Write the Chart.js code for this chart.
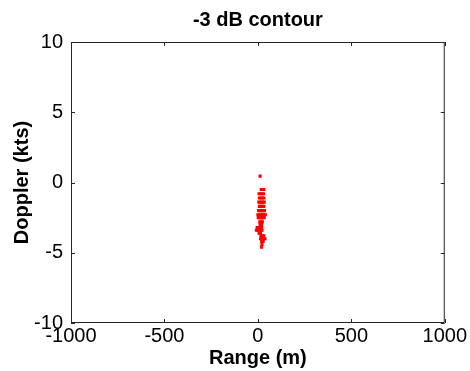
<!DOCTYPE html>
<html lang="en">
<head>
<meta charset="UTF-8">
<title>-3 dB contour</title>
<script src="https://cdn.jsdelivr.net/npm/chart.js"></script>
<style>
  html, body { margin: 0; padding: 0; background: #fff; }
  #wrap { width: 470px; height: 371px; }
</style>
</head>
<body>
<div id="wrap"><canvas id="chart" width="470" height="371"></canvas></div>
<script>
// contour cells: range (m) and doppler (kts)
const rangeM = [
  12,
  18, 26, 32,
  6, 14, 22, 30,
  8, 16, 24, 32,
  5, 12, 20, 28, 34,
  8, 16, 24, 32,
  4, 12, 20, 28, 36,
  0, 8, 16, 24, 32, 40,
  2, 10, 18, 26, 34,
  10, 18, 24,
  12, 20,
  -4, 4, 12, 20,
  -8, 0, 8, 16, 22,
  6, 14,
  16, 24, 32,
  14, 22, 30, 38,
  20, 28,
  22,
  20
];
const dopplerKts = [
  0.45,
  -0.5, -0.5, -0.5,
  -0.8, -0.8, -0.8, -0.8,
  -1.1, -1.1, -1.1, -1.1,
  -1.4, -1.4, -1.4, -1.4, -1.4,
  -1.7, -1.7, -1.7, -1.7,
  -2.0, -2.0, -2.0, -2.0, -2.0,
  -2.3, -2.3, -2.3, -2.3, -2.3, -2.3,
  -2.5, -2.5, -2.5, -2.5, -2.5,
  -2.8, -2.8, -2.8,
  -3.0, -3.0,
  -3.2, -3.2, -3.2, -3.2,
  -3.4, -3.4, -3.4, -3.4, -3.4,
  -3.6, -3.6,
  -3.8, -3.8, -3.8,
  -4.0, -4.0, -4.0, -4.0,
  -4.2, -4.2,
  -4.4,
  -4.6
];
const xTicks = [-1000, -500, 0, 500, 1000];
const yTicks = [-10, -5, 0, 5, 10];

const points = rangeM.map((x, i) => ({ x: x, y: dopplerKts[i] }));

// matlab style box with inward ticks, title centred over the axes
const boxPlugin = {
  id: 'box',
  beforeDraw(chart) {
    const a = chart.chartArea;
    if (chart.titleBlock) {
      chart.titleBlock.left = a.left;
      chart.titleBlock.right = a.right;
    }
  },
  afterDraw(chart) {
    const { ctx, chartArea: a, scales } = chart;
    const len = 4;
    ctx.save();
    ctx.strokeStyle = '#262626';
    ctx.lineWidth = 1;
    ctx.beginPath();
    ctx.rect(a.left + 0.5, a.top + 0.5, a.right - a.left - 1, a.bottom - a.top - 1);
    xTicks.forEach(v => {
      const px = Math.round(scales.x.getPixelForValue(v)) + 0.5;
      ctx.moveTo(px, a.bottom); ctx.lineTo(px, a.bottom - len);
      ctx.moveTo(px, a.top); ctx.lineTo(px, a.top + len);
    });
    yTicks.forEach(v => {
      const py = Math.round(scales.y.getPixelForValue(v)) + 0.5;
      ctx.moveTo(a.left, py); ctx.lineTo(a.left + len, py);
      ctx.moveTo(a.right, py); ctx.lineTo(a.right - len, py);
    });
    ctx.stroke();
    ctx.restore();
  }
};

const font = 'Liberation Sans, Arial, sans-serif';

new Chart(document.getElementById('chart'), {
  type: 'scatter',
  data: {
    datasets: [{
      label: '-3 dB',
      data: points,
      pointStyle: 'rect',
      pointRadius: 2.2,
      pointBorderWidth: 0,
      backgroundColor: 'rgb(255,0,0)',
      borderColor: 'rgb(255,0,0)'
    }]
  },
  options: {
    responsive: false,
    animation: false,
    layout: { padding: { left: 0, right: 21, top: 0, bottom: 0 } },
    plugins: {
      legend: { display: false },
      tooltip: { enabled: false },
      title: {
        display: true,
        text: '-3 dB contour',
        color: '#000',
        font: { family: font, size: 20, weight: 'bold', lineHeight: 1.2 },
        padding: { top: 8, bottom: 10 }
      }
    },
    scales: {
      x: {
        type: 'linear',
        min: -1000, max: 1000,
        afterFit(s) { s.height = 48; },
        afterBuildTicks(s) { s.ticks = xTicks.map(v => ({ value: v })); },
        grid: { display: false, drawTicks: false },
        border: { display: false },
        ticks: {
          color: '#000',
          padding: 3,
          maxRotation: 0,
          autoSkip: false,
          callback: v => String(v),
          font: { family: font, size: 20, lineHeight: 1 }
        },
        title: {
          display: true,
          text: 'Range (m)',
          color: '#000',
          font: { family: font, size: 20, weight: 'bold', lineHeight: 1.2 },
          padding: { top: 0, bottom: 1 }
        }
      },
      y: {
        type: 'linear',
        min: -10, max: 10,
        afterFit(s) { s.width = 71; },
        afterBuildTicks(s) { s.ticks = yTicks.map(v => ({ value: v })); },
        grid: { display: false, drawTicks: false },
        border: { display: false },
        ticks: {
          color: '#000',
          padding: 8,
          autoSkip: false,
          callback: v => String(v),
          font: { family: font, size: 20, lineHeight: 1 }
        },
        title: {
          display: true,
          text: 'Doppler (kts)',
          color: '#000',
          font: { family: font, size: 20, weight: 'bold', lineHeight: 1.2 },
          padding: { top: 10, bottom: 0 }
        }
      }
    }
  },
  plugins: [boxPlugin]
});
</script>
</body>
</html>
